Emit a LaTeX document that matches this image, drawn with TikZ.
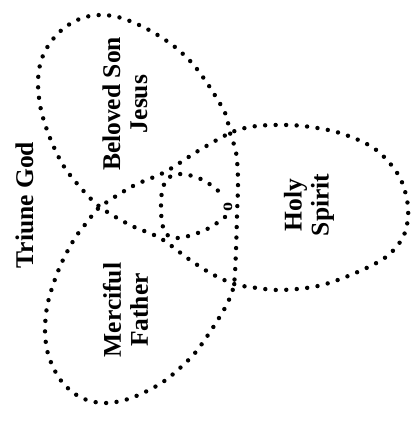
\documentclass[tikz,border=0pt]{standalone}
\usepackage{fontspec}
\setmainfont{Liberation Serif}
\tikzset{
  dotline/.style={line width=4.4pt, dash pattern=on 0pt off 10.5pt, line cap=round},
  lbl/.style={rotate=90, align=center, inner sep=0pt, font=\fontsize{25.5}{27}\selectfont\bfseries}
}
\begin{document}
\begin{tikzpicture}[x=1pt,y=-1pt]
\useasboundingbox (0,0) rectangle (417,424);
% outer triquetra-like closed curve
\draw[dotline] plot[smooth cycle, tension=0.55] coordinates {
(100,207) (133,186) (165,172) (198,151) (230,133)
(250,127) (273,125) (303,126) (340,133) (375,149) (399,176) (408,207)
(404,235) (386,257) (353,274) (318,286) (280,290) (250,287) (234,284)
(212,274) (190,260) (160,238) (130,225) (100,207)
(80,187) (63,165) (50,138) (41,110) (38,83) (41,61) (50,43) (64,28)
(82,18) (100,15) (118,17) (137,24) (156,34) (175,47) (192,63) (205,80)
(216,97) (226,115) (230,133)
(236,152) (238,180) (237,215) (236,250) (234,284)
(228,302) (219,318) (208,335) (195,353) (180,368) (163,382) (143,393)
(125,400) (107,403) (90,401) (75,394) (62,382) (53,367) (47,350)
(45,330) (47,307) (53,285) (62,262) (75,238) (88,221)
};
% inner ring
\draw[dotline] plot[smooth, tension=0.55] coordinates {
(225,217) (211,227) (195,234) (178,238) (166,234) (162,222) (161,207)
(162,192) (167,179) (179,174) (196,177) (211,185) (225,197)
};
\node[rotate=90, inner sep=0pt, font=\fontsize{18}{18}\selectfont\bfseries] (omark) at (228,207) {o};
\node[lbl] (triune) at (24.5,205) {Triune God};
\node[lbl] (son) at (125,104) {Beloved Son\\Jesus};
\node[lbl] (spirit) at (309,205) {Holy\\Spirit};
\node[lbl] (father) at (125.5,310) {Merciful\\Father};
\end{tikzpicture}
\end{document}
